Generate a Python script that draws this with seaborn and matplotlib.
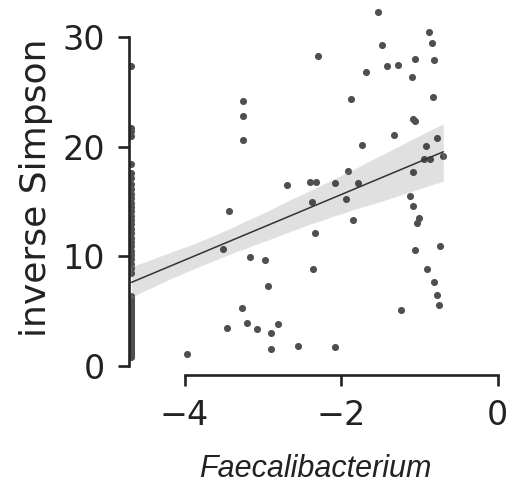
import matplotlib
matplotlib.use("Agg")
import matplotlib.pyplot as plt
import seaborn as sns
import numpy as np
import pandas as pd

# samples where Faecalibacterium was not detected (pseudocount, log10)
zero_x = -4.68
zero_inv_simpson = [0.8, 0.9, 1.0, 1.1, 1.2, 1.3, 1.45, 1.6, 1.7, 1.8, 1.95, 2.1,
                    2.2, 2.3, 2.5, 2.65, 2.8, 2.9, 3.0, 3.2, 3.35, 3.5, 3.6, 3.7,
                    3.9, 4.05, 4.2, 4.3, 4.4, 4.6, 4.75, 4.9, 5.0, 5.1, 5.3, 5.45,
                    5.6, 5.8, 5.95, 6.1, 6.3, 6.4,
                    8.5, 8.9, 9.3, 9.7, 10.1, 10.5, 10.9, 11.3, 11.7, 12.1, 12.5,
                    12.9, 13.3, 13.7, 14.1, 14.5, 14.9, 15.3, 15.7, 16.1, 16.6,
                    17.1, 17.6, 18.4, 21.0, 21.4, 21.7, 27.4]

# samples with detected Faecalibacterium
faecali = [-3.249, -3.249, -3.257, -2.691, -2.394, -2.32, -2.078, -2.376, -3.436,
           -1.525, -2.299, -0.874, -0.843, -1.474, -1.06, -0.817, -1.686, -1.418,
           -1.277, -1.09, -1.87, -0.826, -1.086, -1.052, -1.328, -1.737, -0.771,
           -0.92, -0.937, -0.864, -0.695, -1.916, -1.078, -1.78, -1.124, -1.937,
           -1.078, -1.0, -1.027, -1.852, -2.337, -0.732, -1.056, -2.359, -0.907,
           -0.817, -0.779, -0.746, -1.231, -2.074, -3.504, -3.16, -2.976, -2.937,
           -3.262, -3.457, -3.206, -3.074, -2.81, -2.895, -2.891, -2.554, -3.972]
inv_simpson = [24.15, 22.78, 20.58, 16.5, 16.75, 16.8, 16.71, 14.98, 14.13,
               32.27, 28.28, 30.5, 29.44, 29.29, 28.0, 27.95, 26.82, 27.34,
               27.43, 26.37, 24.36, 24.54, 22.53, 22.32, 21.07, 20.18, 20.77,
               20.06, 18.85, 18.85, 19.12, 17.78, 17.69, 16.68, 15.5, 15.2,
               14.58, 13.46, 13.06, 13.28, 12.09, 10.93, 10.57, 8.83, 8.8,
               7.64, 6.48, 5.54, 5.09, 1.68, 10.66, 9.95, 9.68, 7.25,
               5.24, 3.44, 3.87, 3.32, 3.81, 2.99, 1.5, 1.77, 1.07]

df = pd.DataFrame({
    "Faecalibacterium": [zero_x] * len(zero_inv_simpson) + faecali,
    "inverse Simpson": zero_inv_simpson + inv_simpson,
})

sns.set_style("ticks")
plt.rcParams['font.family'] = ['DejaVu Sans']

fig = plt.figure(figsize=(5.09, 4.83), dpi=100)
ax = fig.add_axes([0.2534, 0.2236, 0.7322, 0.7764])

sns.regplot(data=df, x="Faecalibacterium", y="inverse Simpson", ax=ax,
            color="0.3", seed=0,
            scatter_kws={"s": 26, "alpha": 1, "color": "#4f4f4f", "linewidths": 0},
            line_kws={"linewidth": 1.1, "color": "0.2"})

ax.set_xlim(-4.71, 0.05)
ax.set_ylim(-0.85, 33.4)
ax.set_xticks([-4, -2, 0])
ax.set_yticks([0, 10, 20, 30])
ax.tick_params(labelsize=24, length=8, width=1.9, pad=9, colors="#222222")
for s in ax.spines.values():
    s.set_linewidth(1.9)
    s.set_color("#222222")

ax.set_ylabel("inverse Simpson", fontsize=26, color="#222222", labelpad=7)
ax.set_xlabel("Faecalibacterium", fontsize=22, fontstyle="italic",
              family=["Liberation Sans"], color="#222222", labelpad=16)

sns.despine(ax=ax, trim=True)

fig.savefig("out.png", dpi=100)
